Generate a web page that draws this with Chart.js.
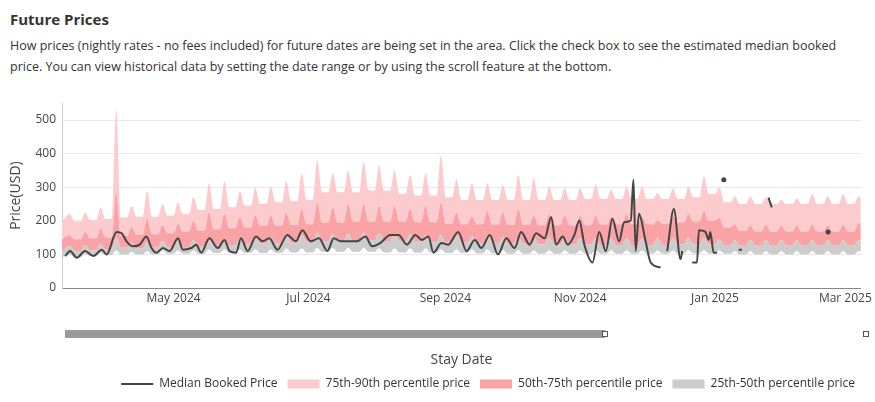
<!DOCTYPE html>
<html><head><meta charset="utf-8">
<script src="https://cdn.jsdelivr.net/npm/chart.js@4"></script>
<style>
body{margin:0;width:875px;height:402px;overflow:hidden;font-family:"Open Sans","Noto Sans",sans-serif;background:#fff;position:relative}
h1{position:absolute;left:10px;top:9px;margin:0;font-size:15px;font-weight:700;color:#333}
p{position:absolute;left:10px;top:35px;margin:0;width:840px;font-size:12.5px;line-height:21px;color:#333}
#c{position:absolute;left:0;top:90px}
.bar{position:absolute;left:65px;top:330px;width:540px;height:8px;background:#999}
.h{position:absolute;top:331px;width:4px;height:4px;border:1px solid #555;background:#fff}
</style></head><body>
<h1>Future Prices</h1>
<p>How prices (nightly rates - no fees included) for future dates are being set in the area. Click the check box to see the estimated median booked price. You can view historical data by setting the date range or by using the scroll feature at the bottom.</p>
<canvas id="c" width="875" height="312" style="width:875px;height:312px"></canvas>
<div class="bar"></div><div class="h" style="left:602px"></div><div class="h" style="left:863px"></div>
<script>
// x values are days since 2024-03-10
const tickDays=[52,113,175,236,297,356];
const tickLabels=["May 2024","Jul 2024","Sep 2024","Nov 2024","Jan 2025","Mar 2025"];
// weekly peak/trough values, week k peak at day 5+7k
const p90Peak=[220,225,240,534,245,288,250,255,270,312,317,288,298,302,317,341,380,341,350,375,365,350,336,341,394,322,312,312,307,336,327,302,297,297,307,293,302,302,283,297,302,331,300,273,273,270,262,266,280,273,280,273];
const p90Trough=[198,202,205,210,212,212,215,220,232,235,240,245,250,255,258,262,285,285,285,290,290,280,275,275,270,262,262,262,262,262,262,262,262,265,265,265,265,265,265,265,270,280,255,250,250,250,250,250,250,250,250,250];
const p75Peak=[158,167,177,283,182,206,187,192,201,225,220,211,216,216,225,235,254,240,250,250,245,245,235,245,254,225,211,230,225,235,216,220,216,216,216,211,220,211,201,211,220,230,210,190,186,188,185,187,189,186,188,195];
const p75Trough=[145,148,150,155,158,160,163,168,170,175,178,180,185,185,188,190,195,195,198,198,198,198,196,196,192,190,190,188,188,188,187,187,187,187,188,190,190,190,192,195,198,200,180,170,168,168,168,168,168,168,168,168];
const p50Peak=[125,128,132,150,135,138,140,140,142,145,145,148,150,150,155,158,165,160,162,165,162,160,160,158,158,158,155,155,152,152,150,150,150,148,148,148,148,148,148,148,150,150,145,143,143,143,143,143,143,143,143,143];
const p50Trough=[110,112,115,120,118,120,122,122,125,128,128,130,132,132,135,138,140,140,140,142,140,138,138,136,135,135,134,134,132,132,130,130,130,130,128,128,128,128,128,130,130,130,128,126,126,126,126,126,126,126,126,126];
const p25Peak=[100,102,105,112,108,110,112,112,112,115,115,115,115,115,118,118,120,120,120,120,118,118,118,118,115,115,115,115,113,113,112,112,112,112,112,112,112,112,112,112,113,113,112,110,110,110,110,110,110,110,110,110];
const p25Trough=[92,95,98,100,100,100,102,102,102,104,104,104,104,104,106,106,108,108,108,108,106,106,105,105,104,104,103,103,102,102,102,102,102,102,102,102,102,102,102,102,103,103,102,100,100,100,100,100,100,100,100,100];
const medDays=[2.9,5.2,8.2,11.9,15.7,19.5,21.7,26.2,28.5,30.7,33.7,36.7,39.7,42,44.2,47.2,50.2,54,56.2,60,62.2,64.5,68.2,72,75,77.3,80.3,82.5,85.5,89.3,92.3,95.3,99,103.5,107.3,110.3,114,117.8,121.6,124.5,127.6,131.3,135,138.8,141.8,145.6,150,153.8,157.6,161.4,164.3,167.3,169.6,173.3,176.3,180.8,184.6,188.3,191.3,195.1,198.8,202.6,206.3,209.3,213.1,216.1,219.9,222.9,225.1,228.1,230.4,233.4,235.6,237.9,241.6,244.6,247.6,250.6,253.6,255.9,258.9,260.1,261.1,262.6,265.6,267.9,272.4,274,275.4,278.4,281.4,282.2,284,286.7,288.9,289.7,292.7,294.2,294.9,296.4,297.9,299.5,301,302.5,307.7,309.2,315,321.2,322.7,340,348.2,355];
const medVals=[95,110,90,110,95,114,100,167,163,139,124,129,153,119,105,119,110,148,114,119,129,105,148,119,143,110,105,148,110,153,139,148,114,158,139,172,139,148,110,148,139,139,139,153,124,134,158,158,129,158,143,153,105,134,129,167,110,143,119,158,100,148,119,167,129,163,148,211,129,153,129,158,201,129,76,167,110,206,139,196,201,322,110,221,139,76,61,null,110,235,86,110,null,76,76,172,167,143,167,105,105,null,322,null,114,114,null,269,240,null,167,null];

function band(peak,trough){const out=[{x:1.5,y:trough[0]}];for(let k=0;k<peak.length;k++){const d=5+7*k;out.push({x:d,y:peak[k]});out.push({x:d+2.2,y:trough[k]});if(d+5<=364)out.push({x:d+5,y:trough[k]});}return out;}
const medData=medDays.map((d,i)=>({x:d,y:medVals[i]}));
const common={pointRadius:0,borderWidth:0,cubicInterpolationMode:'monotone'};
new Chart(document.getElementById('c'),{type:'line',
data:{datasets:[
{label:'Median Booked Price',data:medData,borderColor:'#444',backgroundColor:'#444',borderWidth:2,fill:false,spanGaps:false,cubicInterpolationMode:'monotone',
 pointRadius:ctx=>{const i=ctx.dataIndex;return (medVals[i]!=null&&medVals[i-1]==null&&medVals[i+1]==null)?1.5:0;},pointStyle:'circle'},
{label:'p25',data:band(p25Peak,p25Trough),...common,borderColor:'rgba(0,0,0,0)',fill:false},
{label:'25th-50th percentile price',data:band(p50Peak,p50Trough),...common,backgroundColor:'#cccccc',borderColor:'#cccccc',fill:'-1'},
{label:'50th-75th percentile price',data:band(p75Peak,p75Trough),...common,backgroundColor:'#f9a3a6',borderColor:'#f9a3a6',fill:'-1'},
{label:'75th-90th percentile price',data:band(p90Peak,p90Trough),...common,backgroundColor:'#fccbce',borderColor:'#fccbce',fill:'-1'}
]},
options:{responsive:false,animation:false,
layout:{padding:{top:8,left:8,right:10,bottom:2}},
plugins:{tooltip:{enabled:false},
 legend:{position:'bottom',align:'end',
  labels:{color:'#333',font:{size:12,family:'Open Sans'},usePointStyle:true,pointStyleWidth:32,boxHeight:9,padding:10,
   filter:i=>i.text!=='p25',
   sort:(a,b)=>{const o=[0,4,3,2];return o.indexOf(a.datasetIndex)-o.indexOf(b.datasetIndex);},
   generateLabels:ch=>ch.data.datasets.map((d,i)=>({text:d.label,datasetIndex:i,fontColor:'#333',
     pointStyle:i===0?'line':'rect',fillStyle:i===0?'#444':d.backgroundColor,strokeStyle:i===0?'#444':d.backgroundColor,lineWidth:i===0?2:0,hidden:false}))}}},
scales:{
 x:{type:'linear',min:1.5,max:363,
  afterBuildTicks:s=>{s.ticks=tickDays.map(v=>({value:v}));},
  afterFit:s=>{s.height=80;},
  ticks:{autoSkip:false,maxRotation:0,color:'#444',font:{size:12,family:'Open Sans'},callback:v=>tickLabels[tickDays.indexOf(v)]},
  grid:{display:false,drawTicks:false},border:{color:'#888'},
  title:{display:true,text:'Stay Date',color:'#444',font:{size:14,family:'Open Sans'},padding:{top:34,bottom:0}}},
 y:{min:0,max:550,afterFit:s=>{s.width=54;},
  afterBuildTicks:s=>{s.ticks=[0,100,200,300,400,500].map(v=>({value:v}));},
  ticks:{color:'#444',font:{size:12,family:'Open Sans'},padding:6},
  grid:{color:'#e8e8e8',drawTicks:false},border:{color:'#ccc'},
  title:{display:true,text:'Price(USD)',color:'#444',font:{size:14,family:'Open Sans'},padding:0}}
}}});
</script></body></html>
